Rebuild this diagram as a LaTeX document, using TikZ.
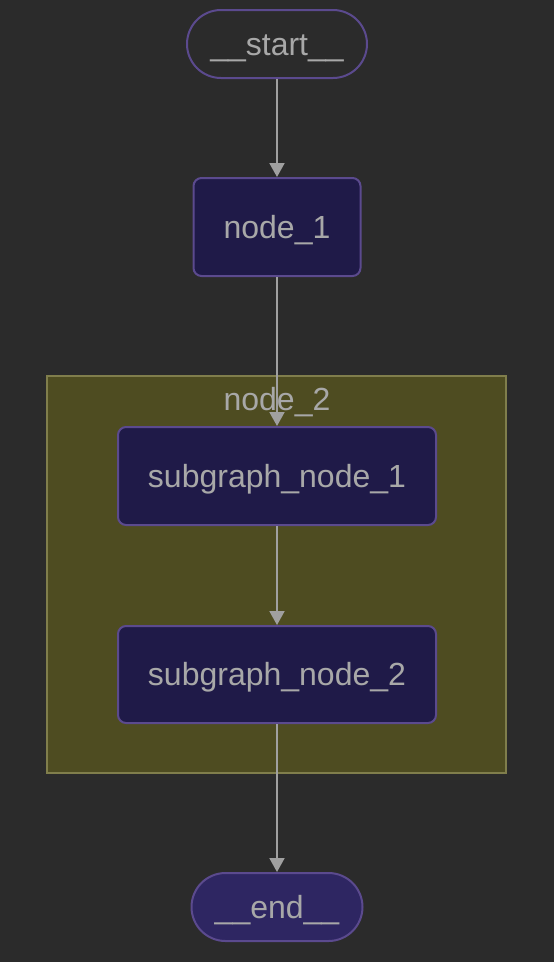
\documentclass[tikz,border=0pt]{standalone}
\usepackage{fontspec}
\setmainfont{Liberation Sans}
\usetikzlibrary{arrows.meta}
\definecolor{bgc}{HTML}{2B2B2B}
\definecolor{nodefill}{HTML}{1F1A48}
\definecolor{endfill}{HTML}{2E2662}
\definecolor{nodeborder}{HTML}{5B4A8E}
\definecolor{clfill}{HTML}{4E4C21}
\definecolor{clborder}{HTML}{807E4C}
\definecolor{txt}{HTML}{A8A8A8}
\definecolor{edgec}{HTML}{A0A0A0}
\begin{document}
\begin{tikzpicture}[x=1pt,y=-1pt,
  every node/.style={font=\fontsize{32}{36}\selectfont, text=txt, text height=26pt, text depth=3.5pt},
  stadium/.style={draw=nodeborder, line width=2pt, rounded corners=34pt, minimum height=68pt, inner sep=0pt},
  boxnode/.style={draw=nodeborder, fill=nodefill, line width=2pt, rounded corners=8pt, minimum height=98pt, inner sep=0pt},
  edge/.style={draw=edgec, line width=2pt, -{Triangle[length=14pt,width=15pt]}}]
\fill[bgc] (0,0) rectangle (554,962);
\useasboundingbox (0,0) rectangle (554,962);
\node[draw=clborder, fill=clfill, line width=2pt, minimum width=459pt, minimum height=397pt, inner sep=0pt] (cluster) at (276.5,574.5) {};
\node[stadium, fill=bgc, minimum width=180pt] (start) at (277,44) {\_\_start\_\_};
\node[boxnode, minimum width=167pt] (n1) at (277,227) {node\_1};
\node (clabel) at (277,399) {node\_2};
\node[boxnode, minimum width=318pt] (s1) at (277,476) {subgraph\_node\_1};
\node[boxnode, minimum width=318pt, minimum height=97pt] (s2) at (277,674.5) {subgraph\_node\_2};
\node[stadium, fill=endfill, minimum width=171pt] (end) at (277,907) {\_\_end\_\_};
\draw[edge] (start) -- (n1);
\draw[edge] (n1) -- (s1);
\draw[edge] (s1) -- (s2);
\draw[edge] (s2) -- (end);
\end{tikzpicture}
\end{document}
